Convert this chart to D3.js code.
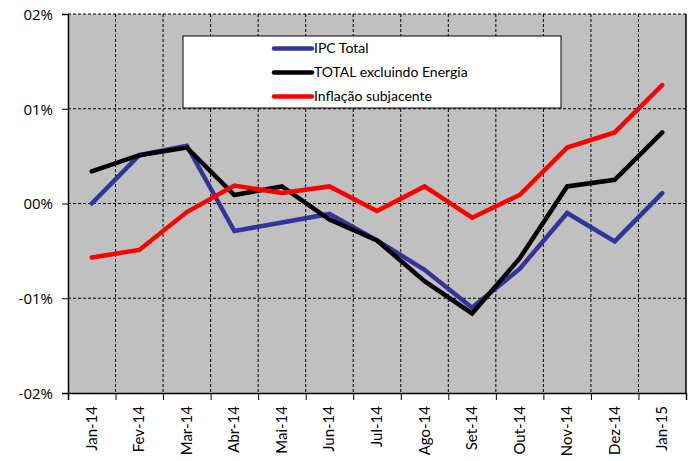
<!DOCTYPE html>
<html>
<head>
<meta charset="utf-8">
<script src="https://cdn.jsdelivr.net/npm/d3@7"></script>
<style>
  body { margin: 0; background: #fff; }
  text { font-family: Lato, "Open Sans", sans-serif; fill: #000; }
</style>
</head>
<body>
<div class="chart"></div>
<script>
// categories and series
var months = ["Jan-14", "Fev-14", "Mar-14", "Abr-14", "Mai-14", "Jun-14", "Jul-14",
              "Ago-14", "Set-14", "Out-14", "Nov-14", "Dez-14", "Jan-15"];
var ipcTotal = [0.0000, 0.0051, 0.0061, -0.0029, -0.0020, -0.0011, -0.0039,
                -0.0070, -0.0110, -0.0069, -0.0010, -0.0040, 0.0011];
var totalExEnergia = [0.0034, 0.0051, 0.0059, 0.0009, 0.0018, -0.0017, -0.0039,
                      -0.0082, -0.0116, -0.0058, 0.0018, 0.0025, 0.0075];
var subjacente = [-0.0057, -0.0049, -0.0009, 0.0019, 0.0011, 0.0018, -0.0008,
                  0.0018, -0.0015, 0.0009, 0.0059, 0.0075, 0.0125];
var yTicks = [-0.02, -0.01, 0, 0.01, 0.02];
var yTickLabels = ["-02%", "-01%", "00%", "01%", "02%"];

var series = [
  { name: "IPC Total", values: ipcTotal, color: "#333399" },
  { name: "TOTAL excluindo Energia", values: totalExEnergia, color: "#000000" },
  { name: "Inflação subjacente", values: subjacente, color: "#ff0000" }
];

var width = 692, height = 461;
var margin = { top: 14, right: 6, bottom: 68, left: 68 };
var w = width - margin.left - margin.right,
    h = height - margin.top - margin.bottom;

var svg = d3.select(".chart").append("svg")
    .attr("width", width)
    .attr("height", height);

var g = svg.append("g")
    .attr("transform", "translate(" + margin.left + "," + margin.top + ")");

var x = d3.scaleBand().domain(months).range([0, w]).padding(0);
var y = d3.scaleLinear().domain([-0.02, 0.02]).range([h, 0]);

// plot background
g.append("rect")
    .attr("width", w).attr("height", h)
    .attr("fill", "#c0c0c0");

// vertical grid at category boundaries
g.selectAll(".vgrid")
    .data(months.slice(1))
  .enter().append("line")
    .attr("x1", function(d) { return x(d); })
    .attr("x2", function(d) { return x(d); })
    .attr("y1", 0).attr("y2", h)
    .attr("stroke", "#000").attr("stroke-width", 1)
    .attr("stroke-dasharray", "3,2");

// horizontal grid
g.selectAll(".hgrid")
    .data(yTicks.slice(1, -1))
  .enter().append("line")
    .attr("x1", 0).attr("x2", w)
    .attr("y1", function(d) { return y(d); })
    .attr("y2", function(d) { return y(d); })
    .attr("stroke", "#000").attr("stroke-width", 1)
    .attr("stroke-dasharray", "3,2");

// top dashed, right border solid
g.append("line").attr("x1", 0).attr("x2", w).attr("y1", 0).attr("y2", 0)
    .attr("stroke", "#000").attr("stroke-dasharray", "3,2");
g.append("line").attr("x1", w).attr("x2", w).attr("y1", 0).attr("y2", h)
    .attr("stroke", "#000").attr("stroke-width", 1.5);

// y axis
var yAxis = d3.axisLeft(y)
    .tickValues(yTicks)
    .tickSize(6)
    .tickFormat(function(d, i) { return yTickLabels[i]; });
var ya = g.append("g").call(yAxis);
ya.select(".domain").attr("stroke", "#000").attr("stroke-width", 1.5);
ya.selectAll("text")
    .style("font-family", "'Open Sans', sans-serif")
    .style("font-size", "15px")
    .attr("dx", "-6").attr("dy", "0.35em");

// x axis
var xTickAxis = d3.axisBottom(d3.scaleLinear().domain([0, months.length]).range([0, w]))
    .tickValues(d3.range(months.length + 1))
    .tickSize(7)
    .tickFormat("");
var xa = g.append("g").attr("transform", "translate(0," + h + ")").call(xTickAxis);
xa.select(".domain").attr("stroke", "#000").attr("stroke-width", 1.5);

g.selectAll(".xlabel")
    .data(months)
  .enter().append("text")
    .attr("transform", function(d) {
      return "translate(" + (x(d) + x.bandwidth() / 2 + 5) + "," + (h + 13) + ") rotate(-90)";
    })
    .attr("text-anchor", "end")
    .style("font-size", "15px")
    .text(function(d) { return d; });

// lines
var line = d3.line()
    .x(function(d, i) { return x(months[i]) + x.bandwidth() / 2; })
    .y(function(d) { return y(d); });

g.selectAll(".series")
    .data(series)
  .enter().append("path")
    .attr("d", function(d) { return line(d.values); })
    .attr("fill", "none")
    .attr("stroke", function(d) { return d.color; })
    .attr("stroke-width", 4.5)
    .attr("stroke-linejoin", "miter")
    .attr("stroke-linecap", "round");

// legend
var legend = svg.append("g").attr("transform", "translate(183,36)");
legend.append("rect")
    .attr("width", 378).attr("height", 72)
    .attr("fill", "#fff").attr("stroke", "#000").attr("stroke-width", 1);

var item = legend.selectAll(".item")
    .data(series)
  .enter().append("g")
    .attr("transform", function(d, i) { return "translate(0," + (12.5 + i * 24) + ")"; });
item.append("line")
    .attr("x1", 91).attr("x2", 129)
    .attr("stroke", function(d) { return d.color; })
    .attr("stroke-width", 4.5)
    .attr("stroke-linecap", "round");
item.append("text")
    .attr("x", 131).attr("dy", "0.35em")
    .style("font-size", "14px")
    .text(function(d) { return d.name; });
</script>
</body>
</html>
